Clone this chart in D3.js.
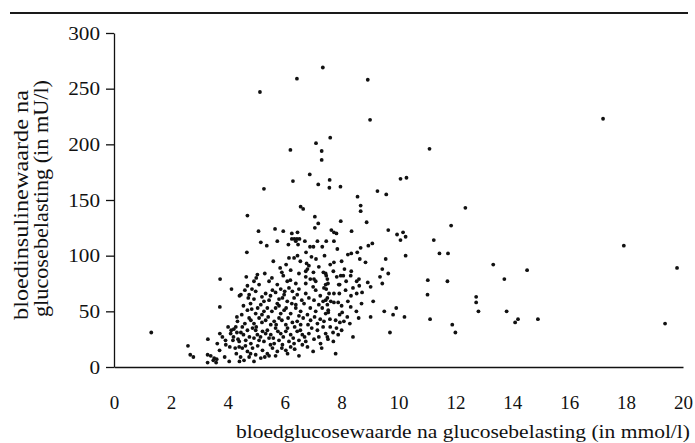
<!DOCTYPE html>
<html>
<head>
<meta charset="utf-8">
<script src="https://cdn.jsdelivr.net/npm/d3@7"></script>
<style>
	html, body { margin: 0; padding: 0; background: #fff; }
	svg { display: block; }
	text { font-family: "Liberation Serif", "Times New Roman", serif; fill: #111; }
</style>
</head>
<body>
<svg id="chart" width="695" height="443" font-family="Liberation Serif"></svg>
<script>
'use strict';

// tick values
var xTicks = [0, 2, 4, 6, 8, 10, 12, 14, 16, 18, 20];
var yTicks = [0, 50, 100, 150, 200, 250, 300];

var xTitle = 'bloedglucosewaarde na glucosebelasting (in mmol/l)';
var yTitle = ['bloedinsulinewaarde na', 'glucosebelasting (in mU/l)'];

// [glucose mmol/l, insulin mU/l]
var highPoints = [
	[7.34, 269], [6.43, 259], [8.92, 258], [5.13, 247], [9.0, 222], [7.6, 206],
	[7.1, 201], [6.2, 195], [7.3, 194], [7.3, 186], [6.88, 173], [6.29, 167],
	[7.18, 164], [7.58, 168], [7.57, 161], [7.96, 162], [10.07, 169], [10.28, 170],
	[5.27, 160], [9.26, 158], [9.57, 155], [8.56, 153], [8.67, 145], [6.56, 144],
	[6.65, 142]
];

var rightPoints = [
	[17.19, 223], [11.09, 196], [12.35, 143], [11.85, 127], [10.16, 121], [10.25, 117],
	[10.07, 114], [11.24, 114], [10.25, 100], [11.44, 102], [11.74, 102], [17.92, 109],
	[19.79, 89], [13.33, 92], [14.52, 87], [11.03, 78], [11.72, 77], [13.72, 79],
	[11.02, 65], [12.73, 63], [12.73, 58], [12.81, 50], [13.8, 50], [10.21, 45],
	[11.11, 43], [11.89, 38], [12.0, 31], [14.1, 40], [14.2, 43], [14.9, 43],
	[19.37, 39]
];

var upperMidPoints = [
	[4.69, 136], [5.08, 122], [5.66, 124], [5.95, 122], [6.25, 120], [6.45, 121],
	[6.25, 115], [6.34, 115], [6.43, 115], [6.52, 115],
	[7.06, 135], [7.18, 129], [7.06, 125], [8.67, 140], [7.97, 131], [8.88, 130],
	[7.64, 123], [7.73, 121], [7.82, 120], [8.35, 122], [9.64, 123], [9.95, 119]
];

var midPoints = [
	[5.16, 112], [5.37, 109], [5.74, 113], [6.13, 110], [6.39, 113], [6.47, 110],
	[6.71, 113], [6.89, 108], [7.01, 108], [7.15, 113], [7.32, 108], [7.46, 113],
	[7.73, 113], [7.85, 106], [8.67, 107], [9.08, 111], [8.94, 109], [4.67, 103],
	[6.15, 98], [6.33, 98], [6.45, 100], [6.75, 103], [6.94, 99], [8.22, 101],
	[8.34, 102], [8.55, 103], [8.64, 97], [8.84, 94], [9.55, 97], [6.77, 93],
	[6.85, 91], [7.73, 94], [5.84, 89], [5.9, 85], [6.21, 87], [6.74, 86],
	[6.8, 88], [7.01, 85], [7.36, 85], [7.44, 84], [7.46, 82], [7.71, 86],
	[7.83, 81], [7.97, 82], [8.06, 82], [8.34, 86], [8.32, 82], [9.43, 88],
	[9.64, 84], [3.73, 79], [4.65, 81], [5.04, 83], [6.74, 81], [7.03, 79],
	[7.5, 79], [8.61, 79], [9.35, 81]
];

var lowRightPoints = [
	[7.52, 75], [7.93, 74], [8.16, 77], [8.53, 77], [8.92, 76], [8.62, 73],
	[9.02, 72], [9.43, 75], [7.73, 66], [7.92, 66], [8.14, 69], [8.33, 64],
	[8.53, 66], [8.72, 67], [7.46, 70], [7.44, 60], [7.5, 62], [7.62, 59],
	[7.73, 58], [7.88, 58], [8.22, 59], [9.11, 59], [8.32, 54], [8.52, 50],
	[9.5, 50], [9.92, 53], [9.81, 47], [9.02, 45], [7.53, 51], [7.53, 49],
	[7.93, 47], [8.02, 49], [7.59, 43], [7.79, 42], [7.94, 40], [8.08, 41],
	[8.29, 39], [7.6, 36], [7.82, 35], [9.7, 31], [7.88, 29], [7.52, 25],
	[7.71, 23], [7.79, 12]
];

var lowLeftPoints = [
	[1.31, 31], [4.13, 70], [4.41, 64], [3.72, 54], [4.32, 45], [4.01, 36],
	[4.12, 33], [4.21, 34], [4.32, 31], [4.1, 30], [3.72, 30], [3.81, 27],
	[3.3, 25], [3.92, 24], [4.18, 24], [3.63, 21], [3.93, 20], [4.07, 18],
	[4.26, 17], [4.4, 18], [2.6, 19], [3.71, 15], [2.68, 11], [2.79, 9],
	[3.29, 11], [3.4, 10], [3.52, 8], [3.61, 7], [3.49, 6], [3.29, 4],
	[3.59, 4], [3.89, 9], [4.05, 5], [4.41, 5]
];

var coreCluster = [
	[4.69, 73], [4.92, 77], [5.10, 74], [5.45, 77], [5.74, 74], [6.09, 77],
	[6.39, 75], [6.74, 75], [7.09, 77], [7.44, 74],
	[4.46, 65], [4.75, 65], [4.98, 68], [5.33, 66], [5.57, 69], [5.68, 67],
	[5.86, 70], [5.98, 65], [6.15, 71], [6.27, 68], [6.44, 65], [6.74, 66],
	[7.09, 69], [7.38, 71], [7.56, 66],
	[4.72, 62], [4.92, 61], [5.16, 56], [5.27, 59], [5.45, 60], [5.74, 57],
	[5.92, 62], [6.09, 59], [6.33, 62], [6.39, 56], [6.68, 57], [7.03, 60],
	[7.35, 59], [7.50, 56],
	[4.49, 47], [4.69, 51], [4.84, 52], [4.98, 48], [5.27, 50], [5.39, 53],
	[5.68, 53], [5.86, 48], [5.98, 51], [6.21, 48], [6.39, 53], [6.56, 50],
	[6.80, 47], [7.09, 50], [7.32, 53], [7.44, 48],
	[4.34, 41], [4.51, 36], [4.81, 42], [4.92, 39], [5.10, 44], [5.33, 42],
	[5.51, 38], [5.63, 41], [5.80, 44], [6.04, 38], [6.27, 40], [6.44, 41],
	[6.56, 38], [6.91, 42], [7.15, 39], [7.38, 41],
	[4.46, 31], [4.69, 33], [4.87, 35], [5.04, 29], [5.22, 32], [5.39, 33],
	[5.51, 29], [5.68, 35], [5.86, 30], [6.04, 32], [6.21, 29], [6.44, 32],
	[6.62, 29], [6.85, 30], [7.15, 33], [7.44, 30],
	[4.40, 23], [4.63, 24], [4.81, 21], [4.92, 26], [5.10, 24], [5.27, 23],
	[5.45, 26], [5.63, 21], [5.80, 24], [5.92, 20], [6.15, 23], [6.33, 21],
	[6.50, 24], [6.74, 23], [7.03, 25], [7.26, 21], [7.50, 27],
	[4.51, 17], [4.69, 14], [4.87, 17], [4.98, 11], [5.22, 15], [5.39, 12],
	[5.57, 17], [5.74, 14], [6.04, 15], [6.21, 18], [6.62, 20],
	[4.57, 6], [4.75, 9], [4.92, 5], [5.16, 8], [5.45, 10]
];

// overlapping dots in the dense part of the cloud
var coreExtra = [
	[4.3, 12], [4.45, 9], [4.62, 19], [4.8, 12], [5.05, 19], [5.3, 9], [5.5, 20],
	[5.68, 10], [5.9, 17], [6.1, 12], [6.35, 16], [6.5, 10], [6.8, 18], [7.0, 14],
	[4.2, 27], [4.36, 25], [4.55, 29], [4.76, 27], [4.98, 33], [5.15, 27], [5.33, 30],
	[5.6, 26], [5.76, 32], [5.95, 27], [6.1, 35], [6.3, 26], [6.55, 33], [6.7, 27],
	[6.95, 35], [7.2, 27], [7.35, 36], [4.28, 36], [4.6, 39], [4.75, 44], [5.0, 36],
	[5.2, 40], [5.42, 45], [5.7, 38], [5.9, 42], [6.12, 44], [6.35, 36], [6.65, 44],
	[6.82, 38], [7.05, 45], [7.25, 43], [4.55, 55], [4.8, 57], [5.05, 53], [5.2, 47],
	[5.55, 50], [5.8, 55], [6.05, 53], [6.25, 57], [6.5, 46], [6.6, 60], [6.9, 53],
	[7.2, 56], [4.6, 69], [4.85, 70], [5.2, 63], [5.5, 64], [5.8, 61], [6.0, 68],
	[6.5, 70], [6.85, 62], [7.0, 72], [7.25, 64], [5.0, 80], [5.3, 84], [5.55, 80],
	[5.95, 82], [6.2, 78], [6.5, 84], [6.9, 79], [7.2, 90], [5.6, 95], [6.05, 92],
	[6.55, 95], [7.1, 97], [7.4, 100], [7.6, 92], [8.0, 95], [8.1, 88], [7.9, 74],
	[8.4, 71], [8.0, 55], [8.7, 57], [8.2, 45], [8.6, 44], [7.7, 31], [8.0, 33],
	[8.4, 27], [7.3, 17]
];

var allPoints = [].concat(highPoints, rightPoints, upperMidPoints, midPoints,
	lowRightPoints, lowLeftPoints, coreCluster, coreExtra);

var svg = d3.select('#chart');

var x = d3.scaleLinear().domain([0, 20]).range([114, 683]);
var y = d3.scaleLinear().domain([0, 300]).range([367, 33]);

// rule over the figure
svg.append('line')
	.attr('x1', 10).attr('x2', 688)
	.attr('y1', 13).attr('y2', 13)
	.attr('stroke', '#1a1a1a')
	.attr('stroke-width', 2);

// y axis
var yAxis = svg.append('g')
	.attr('transform', 'translate(' + x(0) + ',0)')
	.call(d3.axisLeft(y).tickValues(yTicks).tickSize(8).tickSizeOuter(0).tickPadding(6));
yAxis.attr('font-family', null).attr('font-size', null);
yAxis.selectAll('path, line').attr('stroke', '#111').attr('stroke-width', 1.3);
yAxis.selectAll('text')
	.style('font-size', '18px')
	.attr('dy', '0.34em')
	.attr('textLength', function(d) { return String(d).length * 10.6; })
	.attr('lengthAdjust', 'spacingAndGlyphs');

// x axis
var xAxis = svg.append('g')
	.attr('transform', 'translate(0,' + y(0) + ')')
	.call(d3.axisBottom(x).tickValues(xTicks).tickSize(0).tickSizeOuter(0));
xAxis.attr('font-family', null).attr('font-size', null);
xAxis.selectAll('path').attr('stroke', '#111').attr('stroke-width', 1.3);
xAxis.selectAll('text')
	.style('font-size', '19px')
	.attr('y', 42)
	.attr('dy', 0);

// titles
svg.append('text')
	.attr('x', 236).attr('y', 438)
	.attr('textLength', 454)
	.attr('lengthAdjust', 'spacingAndGlyphs')
	.style('font-size', '18.5px')
	.text(xTitle);

svg.selectAll('text.ytitle')
	.data(yTitle)
	.enter()
	.append('text')
	.attr('class', 'ytitle')
	.attr('transform', function(d, i) {
		return i === 0 ? 'translate(28,320) rotate(-90)' : 'translate(48,317) rotate(-90)';
	})
	.attr('textLength', function(d, i) { return i === 0 ? 230 : 237; })
	.attr('lengthAdjust', 'spacingAndGlyphs')
	.style('font-size', '20.5px')
	.text(function(d) { return d; });

// points
svg.append('g')
	.selectAll('circle')
	.data(allPoints)
	.enter()
	.append('circle')
	.attr('cx', function(d) { return x(d[0]); })
	.attr('cy', function(d) { return y(d[1]); })
	.attr('r', 1.9)
	.attr('fill', '#111');
</script>
</body>
</html>
